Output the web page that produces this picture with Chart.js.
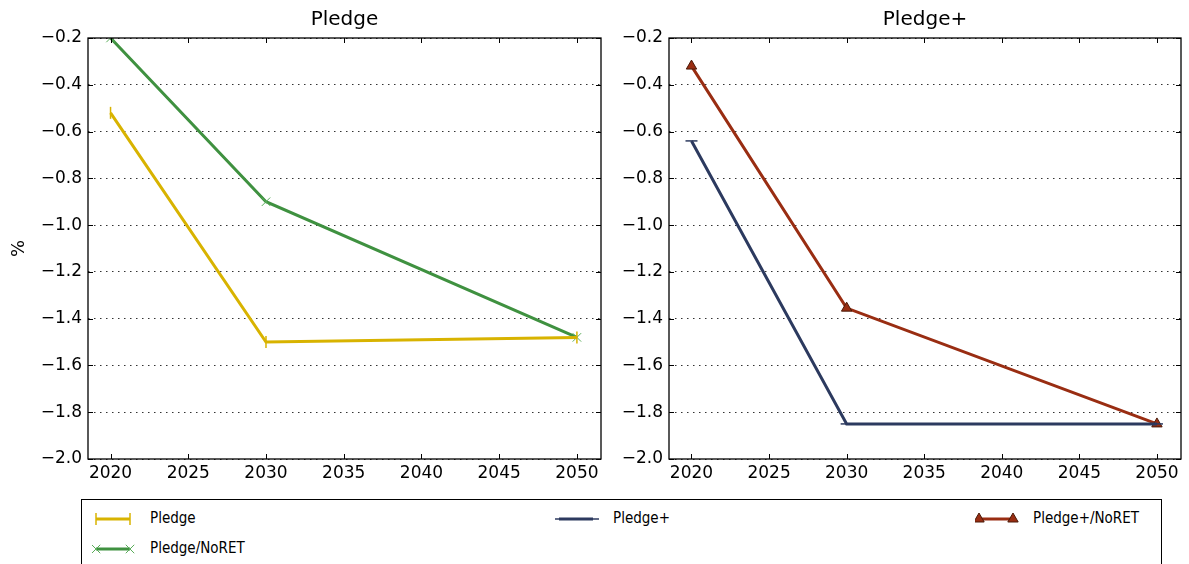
<!DOCTYPE html>
<html>
<head>
<meta charset="utf-8">
<script src="https://cdn.jsdelivr.net/npm/chart.js@4/dist/chart.umd.min.js"></script>
<style>
  body { margin: 0; background: #fff; width: 1189px; height: 564px; overflow: hidden; position: relative; font-family: "DejaVu Sans", sans-serif; }
  #left { position: absolute; left: 0; top: 0; }
  #right { position: absolute; left: 610px; top: 0; }
  #legend { position: absolute; left: 81px; top: 499px; width: 1081px; height: 90px; border: 1px solid #000; box-sizing: border-box; }
  .item { position: absolute; height: 20px; }
  .item canvas { position: absolute; left: 0; top: 0; }
  .item span { position: absolute; top: 0px; font-family: "DejaVu Sans Condensed", "DejaVu Sans", sans-serif; font-stretch: condensed; font-size: 15px; color: #000; white-space: nowrap; }
</style>
</head>
<body>
<canvas id="left" width="610" height="490"></canvas>
<canvas id="right" width="579" height="490"></canvas>
<div id="legend"></div>
<script>
const years = [2020, 2030, 2050];
const xTicks = [2020, 2025, 2030, 2035, 2040, 2045, 2050];
const yTicks = [-2.0, -1.8, -1.6, -1.4, -1.2, -1.0, -0.8, -0.6, -0.4, -0.2];

const pledge = [-0.52, -1.50, -1.48];
const pledgeNoRet = [-0.20, -0.90, -1.48];
const pledgePlus = [-0.64, -1.85, -1.85];
const pledgePlusNoRet = [-0.32, -1.355, -1.85];

const series = {
  pledge: { label: 'Pledge', data: pledge, color: '#d8b300', marker: 'line', rotation: 90, radius: 6, fill: '#d8b300', edge: '#d8b300', edgeW: 1.5 },
  pledgeNoRet: { label: 'Pledge/NoRET', data: pledgeNoRet, color: '#3f9140', marker: 'crossRot', rotation: 0, radius: 6, fill: '#5aad5a', edge: '#5aad5a', edgeW: 1 },
  pledgePlus: { label: 'Pledge+', data: pledgePlus, color: '#2c3a5f', marker: 'line', rotation: 0, radius: 6, fill: '#2c3a5f', edge: '#2c3a5f', edgeW: 1.5 },
  pledgePlusNoRet: { label: 'Pledge+/NoRET', data: pledgePlusNoRet, color: '#992d12', marker: 'triangle', rotation: 0, radius: 6, fill: '#992d12', edge: '#4a1a08', edgeW: 1 }
};

function makeDataset(s) {
  return {
    label: s.label,
    data: years.map((y, i) => ({ x: y, y: s.data[i] })),
    borderColor: s.color,
    borderWidth: 3,
    pointStyle: s.marker,
    pointRotation: s.rotation,
    pointRadius: s.radius,
    pointBackgroundColor: s.fill,
    pointBorderColor: s.edge,
    pointBorderWidth: s.edgeW,
    pointHoverRadius: s.radius,
    tension: 0
  };
}

// matplotlib style frame with ticks pointing inwards on all four sides,
// plus a title centred over the plot area
const frameTicks = {
  id: 'frameTicks',
  afterDraw(chart, args, opts) {
    const { ctx, chartArea: a, scales } = chart;
    ctx.save();
    ctx.strokeStyle = '#000';
    ctx.lineWidth = 1;
    scales.x.ticks.forEach(t => {
      const px = Math.round(scales.x.getPixelForValue(t.value)) + 0.5;
      ctx.beginPath();
      ctx.moveTo(px, a.bottom); ctx.lineTo(px, a.bottom - 5);
      ctx.moveTo(px, a.top); ctx.lineTo(px, a.top + 5);
      ctx.stroke();
    });
    scales.y.ticks.forEach(t => {
      const py = Math.round(scales.y.getPixelForValue(t.value)) + 0.5;
      ctx.beginPath();
      ctx.moveTo(a.left, py); ctx.lineTo(a.left + 5, py);
      ctx.moveTo(a.right, py); ctx.lineTo(a.right - 5, py);
      ctx.stroke();
    });
    ctx.lineWidth = 1.3;
    ctx.strokeRect(a.left, a.top, a.right - a.left, a.bottom - a.top);
    ctx.fillStyle = '#000';
    ctx.font = '20px "DejaVu Sans"';
    ctx.textAlign = 'center';
    ctx.textBaseline = 'middle';
    ctx.fillText(opts.text, (a.left + a.right) / 2, 20);
    ctx.restore();
  }
};

function makeChart(id, title, sets, yWidth, rightPad, showYTitle) {
  return new Chart(document.getElementById(id), {
    type: 'line',
    data: { datasets: sets.map(makeDataset) },
    options: {
      responsive: false,
      animation: false,
      layout: { padding: { left: 0, right: rightPad, top: 38, bottom: 0 } },
      plugins: {
        legend: { display: false },
        tooltip: { enabled: false },
        title: { display: false },
        frameTicks: { text: title }
      },
      scales: {
        x: {
          type: 'linear', min: 2018.55, max: 2051.55,
          afterBuildTicks: s => { s.ticks = xTicks.map(v => ({ value: v })); },
          afterFit: s => { s.height = 31; },
          grid: { display: false, drawTicks: false },
          border: { display: false },
          ticks: { color: '#000', padding: 4, font: { family: 'DejaVu Sans', size: 17 }, callback: v => String(v) }
        },
        y: {
          type: 'linear', min: -2.0, max: -0.2,
          afterBuildTicks: s => { s.ticks = yTicks.map(v => ({ value: v })); },
          afterFit: s => { s.width = yWidth; },
          grid: { drawTicks: false, color: '#333', lineWidth: 1 },
          border: { display: false, dash: [1.5, 4.5] },
          ticks: { color: '#000', padding: 6, font: { family: 'DejaVu Sans', size: 17 },
            callback: v => (v < 0 ? '\u2212' : '') + Math.abs(v).toFixed(1) },
          title: { display: showYTitle, text: '%', color: '#000', font: { family: 'DejaVu Sans', size: 18 }, padding: { top: 9, bottom: 0 } }
        }
      }
    },
    plugins: [frameTicks]
  });
}

makeChart('left', 'Pledge', [series.pledge, series.pledgeNoRet], 88, 9, true);
makeChart('right', 'Pledge+', [series.pledgePlus, series.pledgePlusNoRet], 59, 8, false);

// shared legend under both panels
const legendItems = [
  { s: series.pledge, x: 10, y: 9 },
  { s: series.pledgeNoRet, x: 10, y: 39 },
  { s: series.pledgePlus, x: 473, y: 9 },
  { s: series.pledgePlusNoRet, x: 893, y: 9 }
];
const legendBox = document.getElementById('legend');
legendItems.forEach(it => {
  const div = document.createElement('div');
  div.className = 'item';
  div.style.left = it.x + 'px';
  div.style.top = it.y + 'px';
  const c = document.createElement('canvas');
  c.width = 46; c.height = 20;
  const ctx = c.getContext('2d');
  ctx.strokeStyle = it.s.color;
  ctx.lineWidth = 3;
  ctx.beginPath(); ctx.moveTo(4, 10); ctx.lineTo(38, 10); ctx.stroke();
  [4, 38].forEach(px => {
    ctx.fillStyle = it.s.fill;
    ctx.strokeStyle = it.s.edge;
    ctx.lineWidth = it.s.edgeW;
    Chart.helpers.drawPoint(ctx, { pointStyle: it.s.marker, rotation: it.s.rotation, radius: it.s.radius, borderWidth: it.s.edgeW }, px, 10);
  });
  div.appendChild(c);
  const sp = document.createElement('span');
  sp.textContent = it.s.label;
  sp.style.left = '58px';
  div.appendChild(sp);
  legendBox.appendChild(div);
});
</script>
</body>
</html>
